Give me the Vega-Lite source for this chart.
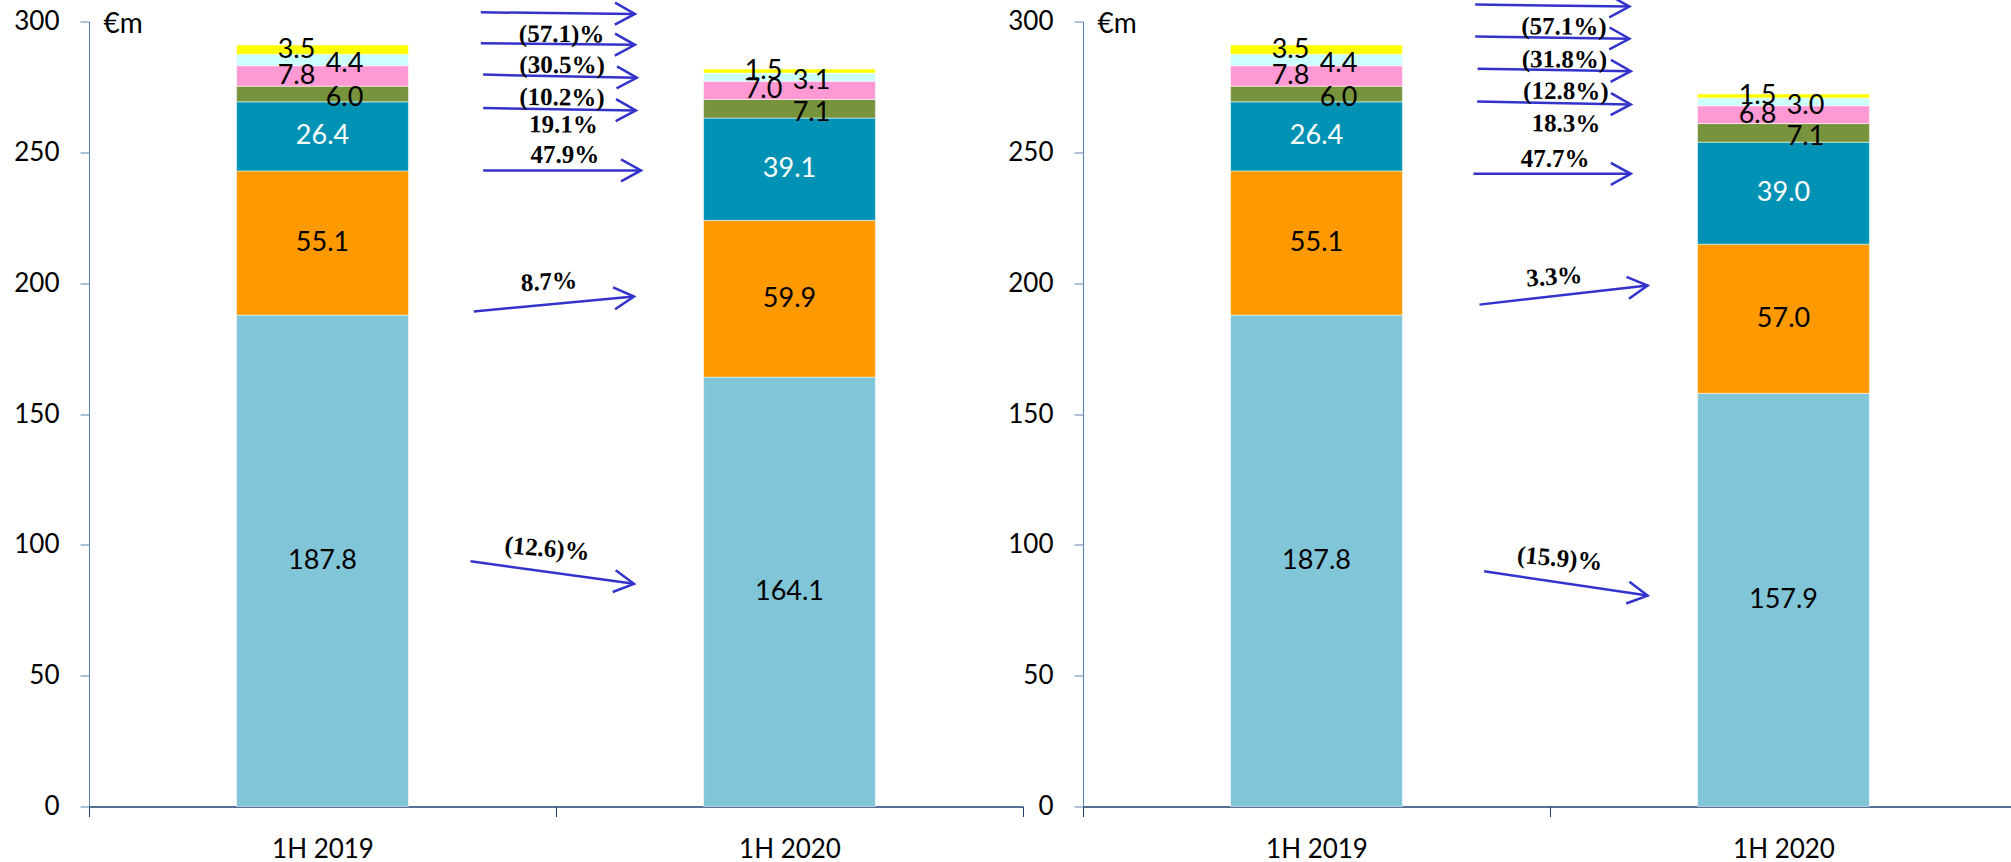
{
  "$schema": "https://vega.github.io/schema/vega-lite/v6.json",
  "background": "white",
  "padding": {"left": 13, "top": -10.5, "right": 0, "bottom": 0},
  "bounds": "flush",
  "spacing": 60,
  "config": {"view": {"stroke": null}, "font": "Lato"},
  "datasets": {
    "bars": [
      {"panel": "A", "period": "1H 2019", "seg": "lightblue", "order": 1, "value": 187.8},
      {"panel": "A", "period": "1H 2019", "seg": "orange", "order": 2, "value": 55.1},
      {"panel": "A", "period": "1H 2019", "seg": "teal", "order": 3, "value": 26.4},
      {"panel": "A", "period": "1H 2019", "seg": "green", "order": 4, "value": 6.0},
      {"panel": "A", "period": "1H 2019", "seg": "pink", "order": 5, "value": 7.8},
      {"panel": "A", "period": "1H 2019", "seg": "cyan", "order": 6, "value": 4.4},
      {"panel": "A", "period": "1H 2019", "seg": "yellow", "order": 7, "value": 3.5},
      {"panel": "A", "period": "1H 2020", "seg": "lightblue", "order": 1, "value": 164.1},
      {"panel": "A", "period": "1H 2020", "seg": "orange", "order": 2, "value": 59.9},
      {"panel": "A", "period": "1H 2020", "seg": "teal", "order": 3, "value": 39.1},
      {"panel": "A", "period": "1H 2020", "seg": "green", "order": 4, "value": 7.1},
      {"panel": "A", "period": "1H 2020", "seg": "pink", "order": 5, "value": 7.0},
      {"panel": "A", "period": "1H 2020", "seg": "cyan", "order": 6, "value": 3.1},
      {"panel": "A", "period": "1H 2020", "seg": "yellow", "order": 7, "value": 1.5},
      {"panel": "B", "period": "1H 2019", "seg": "lightblue", "order": 1, "value": 187.8},
      {"panel": "B", "period": "1H 2019", "seg": "orange", "order": 2, "value": 55.1},
      {"panel": "B", "period": "1H 2019", "seg": "teal", "order": 3, "value": 26.4},
      {"panel": "B", "period": "1H 2019", "seg": "green", "order": 4, "value": 6.0},
      {"panel": "B", "period": "1H 2019", "seg": "pink", "order": 5, "value": 7.8},
      {"panel": "B", "period": "1H 2019", "seg": "cyan", "order": 6, "value": 4.4},
      {"panel": "B", "period": "1H 2019", "seg": "yellow", "order": 7, "value": 3.5},
      {"panel": "B", "period": "1H 2020", "seg": "lightblue", "order": 1, "value": 157.9},
      {"panel": "B", "period": "1H 2020", "seg": "orange", "order": 2, "value": 57.0},
      {"panel": "B", "period": "1H 2020", "seg": "teal", "order": 3, "value": 39.0},
      {"panel": "B", "period": "1H 2020", "seg": "green", "order": 4, "value": 7.1},
      {"panel": "B", "period": "1H 2020", "seg": "pink", "order": 5, "value": 6.8},
      {"panel": "B", "period": "1H 2020", "seg": "cyan", "order": 6, "value": 3.0},
      {"panel": "B", "period": "1H 2020", "seg": "yellow", "order": 7, "value": 1.5}
    ],
    "arrows": [
      {"panel": "A", "seg": "yellow", "x1": 0.839, "y1": 303.5, "x2": 1.169, "y2": 302.9, "lab": "(57.1)%", "lx": 1.012, "ly": 295.2},
      {"panel": "A", "seg": "cyan", "x1": 0.839, "y1": 291.7, "x2": 1.169, "y2": 291.1, "lab": "(30.5%)", "lx": 1.013, "ly": 283.4},
      {"panel": "A", "seg": "pink", "x1": 0.844, "y1": 279.7, "x2": 1.173, "y2": 278.5, "lab": "(10.2%)", "lx": 1.013, "ly": 271.0},
      {"panel": "A", "seg": "green", "x1": 0.844, "y1": 266.9, "x2": 1.171, "y2": 266.0, "lab": "19.1%", "lx": 1.016, "ly": 260.6},
      {"panel": "A", "seg": "teal", "x1": 0.844, "y1": 243.1, "x2": 1.182, "y2": 243.1, "lab": "47.9%", "lx": 1.019, "ly": 248.8},
      {"panel": "A", "seg": "orange", "x1": 0.824, "y1": 189.2, "x2": 1.167, "y2": 194.9, "lab": "8.7%", "lx": 0.985, "ly": 200.6},
      {"panel": "A", "seg": "lightblue", "x1": 0.817, "y1": 93.7, "x2": 1.167, "y2": 85.1, "lab": "(12.6)%", "lx": 0.981, "ly": 98.6},
      {"panel": "B", "seg": "yellow", "x1": 0.840, "y1": 306.5, "x2": 1.170, "y2": 305.7, "lab": "(57.1%)", "lx": 1.030, "ly": 298.1},
      {"panel": "B", "seg": "cyan", "x1": 0.840, "y1": 294.3, "x2": 1.170, "y2": 293.4, "lab": "(31.8%)", "lx": 1.031, "ly": 285.5},
      {"panel": "B", "seg": "pink", "x1": 0.845, "y1": 281.9, "x2": 1.173, "y2": 281.0, "lab": "(12.8%)", "lx": 1.034, "ly": 273.4},
      {"panel": "B", "seg": "green", "x1": 0.844, "y1": 269.4, "x2": 1.173, "y2": 268.3, "lab": "18.3%", "lx": 1.034, "ly": 261.0},
      {"panel": "B", "seg": "teal", "x1": 0.836, "y1": 241.8, "x2": 1.173, "y2": 241.8, "lab": "47.7%", "lx": 1.011, "ly": 247.6},
      {"panel": "B", "seg": "orange", "x1": 0.849, "y1": 191.8, "x2": 1.209, "y2": 199.1, "lab": "3.3%", "lx": 1.009, "ly": 202.5},
      {"panel": "B", "seg": "lightblue", "x1": 0.859, "y1": 89.9, "x2": 1.209, "y2": 80.6, "lab": "(15.9)%", "lx": 1.021, "ly": 94.8}
    ]
  },
  "hconcat": [
    {
      "width": 934, "height": 785,
      "layer": [
        {
          "data": {"name": "bars"},
          "transform": [{"filter": "datum.panel === 'A'"}],
          "layer": [
            {
              "mark": {"type": "bar", "width": {"band": 0.368}, "stroke": "#ffffff", "strokeWidth": 1, "strokeOpacity": 0.5},
              "encoding": {
                "x": {"field": "period", "type": "nominal", "sort": null, "scale": {"paddingInner": 0, "paddingOuter": 0},
                  "axis": {"title": null, "labelAngle": 0, "labelFont": "Lato", "labelFontSize": 26, "labelColor": "#000000", "tickBand": "extent", "tickSize": 10, "labelPadding": 20, "domainColor": "#1F3F6E", "tickColor": "#1F3F6E", "domainWidth": 1.5, "tickWidth": 1}},
                "y": {"field": "value", "type": "quantitative", "stack": "zero", "scale": {"domain": [0, 300], "nice": false},
                  "axis": {"title": "€m", "titleAngle": 0, "titleAlign": "left", "titleBaseline": "top", "titleX": 14, "titleY": -11, "titleFont": "Lato", "titleFontSize": 28, "titleFontWeight": "normal", "titleColor": "#000000", "labelFont": "Lato", "labelFontSize": 26, "labelColor": "#000000", "tickSize": 9, "labelPadding": 21, "grid": false, "values": [0, 50, 100, 150, 200, 250, 300], "domainColor": "#5A82B0", "tickColor": "#5A82B0"}},
                "color": {"field": "seg", "type": "nominal", "legend": null,
                  "scale": {"domain": ["lightblue", "orange", "teal", "green", "pink", "cyan", "yellow"], "range": ["#80C6D8", "#FF9900", "#0092B4", "#77933C", "#FF99D4", "#CCFFFF", "#FFFF00"]}},
                "order": {"field": "order", "type": "quantitative"}
              }
            },
            {
              "mark": {"type": "text", "font": "Lato", "fontSize": 27, "align": "center", "baseline": "middle"},
              "encoding": {
                "x": {"field": "period", "type": "nominal", "sort": null},
                "y": {"field": "value", "type": "quantitative", "stack": "zero", "bandPosition": 0.5},
                "detail": {"field": "seg"},
                "order": {"field": "order", "type": "quantitative"},
                "text": {"condition": {"test": "datum.order <= 3", "field": "value", "type": "quantitative", "format": ".1f"}, "value": ""},
                "color": {"condition": {"test": "datum.seg === 'teal'", "value": "#ffffff"}, "value": "#000000"}
              }
            },
            {
              "mark": {"type": "text", "font": "Lato", "fontSize": 27, "align": "center", "baseline": "middle", "dx": -26, "color": "#000000"},
              "encoding": {
                "x": {"field": "period", "type": "nominal", "sort": null},
                "y": {"field": "value", "type": "quantitative", "stack": "zero", "bandPosition": 0.5},
                "detail": {"field": "seg"},
                "order": {"field": "order", "type": "quantitative"},
                "text": {"condition": {"test": "datum.seg === 'yellow' || datum.seg === 'pink'", "field": "value", "type": "quantitative", "format": ".1f"}, "value": ""}
              }
            },
            {
              "mark": {"type": "text", "font": "Lato", "fontSize": 27, "align": "center", "baseline": "middle", "dx": 22, "dy": 4, "color": "#000000"},
              "encoding": {
                "x": {"field": "period", "type": "nominal", "sort": null},
                "y": {"field": "value", "type": "quantitative", "stack": "zero", "bandPosition": 0.5},
                "detail": {"field": "seg"},
                "order": {"field": "order", "type": "quantitative"},
                "text": {"condition": {"test": "datum.seg === 'cyan' || datum.seg === 'green'", "field": "value", "type": "quantitative", "format": ".1f"}, "value": ""}
              }
            }
          ]
        },
        {
          "data": {"name": "arrows"},
          "transform": [
            {"filter": "datum.panel === 'A'"},
            {"calculate": "atan2(-(datum.y2 - datum.y1) * 785 / 300, (datum.x2 - datum.x1) * 467) * 180 / PI", "as": "ang"},
            {"calculate": "datum.ang * 0.6", "as": "tilt"}
          ],
          "layer": [
            {
              "mark": {"type": "rule", "color": "#3333CC", "strokeWidth": 2.5},
              "encoding": {
                "x": {"field": "x1", "type": "quantitative", "scale": {"domain": [0, 2], "nice": false, "zero": false}, "axis": null},
                "y": {"field": "y1", "type": "quantitative", "scale": {"domain": [0, 300], "nice": false}},
                "x2": {"field": "x2"},
                "y2": {"field": "y2"}
              }
            },
            {
              "mark": {"type": "point", "shape": "M -1 -0.55 L 0 0 L -1 0.55", "size": 1600, "filled": false, "stroke": "#3333CC", "strokeWidth": 2.5, "opacity": 1},
              "encoding": {
                "x": {"field": "x2", "type": "quantitative", "scale": {"domain": [0, 2], "nice": false, "zero": false}, "axis": null},
                "y": {"field": "y2", "type": "quantitative", "scale": {"domain": [0, 300], "nice": false}},
                "angle": {"field": "ang", "type": "quantitative", "scale": null}
              }
            },
            {
              "mark": {"type": "text", "font": "Liberation Serif", "fontWeight": "bold", "fontSize": 25, "align": "center", "baseline": "middle", "color": "#000000"},
              "encoding": {
                "x": {"field": "lx", "type": "quantitative", "scale": {"domain": [0, 2], "nice": false, "zero": false}, "axis": null},
                "y": {"field": "ly", "type": "quantitative", "scale": {"domain": [0, 300], "nice": false}},
                "text": {"field": "lab"},
                "angle": {"field": "tilt", "type": "quantitative", "scale": null}
              }
            }
          ]
        }
      ],
      "resolve": {"scale": {"x": "independent"}}
    },
    {
      "width": 934, "height": 785,
      "layer": [
        {
          "data": {"name": "bars"},
          "transform": [{"filter": "datum.panel === 'B'"}],
          "layer": [
            {
              "mark": {"type": "bar", "width": {"band": 0.368}, "stroke": "#ffffff", "strokeWidth": 1, "strokeOpacity": 0.5},
              "encoding": {
                "x": {"field": "period", "type": "nominal", "sort": null, "scale": {"paddingInner": 0, "paddingOuter": 0},
                  "axis": {"title": null, "labelAngle": 0, "labelFont": "Lato", "labelFontSize": 26, "labelColor": "#000000", "tickBand": "extent", "tickSize": 10, "labelPadding": 20, "domainColor": "#1F3F6E", "tickColor": "#1F3F6E", "domainWidth": 1.5, "tickWidth": 1}},
                "y": {"field": "value", "type": "quantitative", "stack": "zero", "scale": {"domain": [0, 300], "nice": false},
                  "axis": {"title": "€m", "titleAngle": 0, "titleAlign": "left", "titleBaseline": "top", "titleX": 14, "titleY": -11, "titleFont": "Lato", "titleFontSize": 28, "titleFontWeight": "normal", "titleColor": "#000000", "labelFont": "Lato", "labelFontSize": 26, "labelColor": "#000000", "tickSize": 9, "labelPadding": 21, "grid": false, "values": [0, 50, 100, 150, 200, 250, 300], "domainColor": "#5A82B0", "tickColor": "#5A82B0"}},
                "color": {"field": "seg", "type": "nominal", "legend": null,
                  "scale": {"domain": ["lightblue", "orange", "teal", "green", "pink", "cyan", "yellow"], "range": ["#80C6D8", "#FF9900", "#0092B4", "#77933C", "#FF99D4", "#CCFFFF", "#FFFF00"]}},
                "order": {"field": "order", "type": "quantitative"}
              }
            },
            {
              "mark": {"type": "text", "font": "Lato", "fontSize": 27, "align": "center", "baseline": "middle"},
              "encoding": {
                "x": {"field": "period", "type": "nominal", "sort": null},
                "y": {"field": "value", "type": "quantitative", "stack": "zero", "bandPosition": 0.5},
                "detail": {"field": "seg"},
                "order": {"field": "order", "type": "quantitative"},
                "text": {"condition": {"test": "datum.order <= 3", "field": "value", "type": "quantitative", "format": ".1f"}, "value": ""},
                "color": {"condition": {"test": "datum.seg === 'teal'", "value": "#ffffff"}, "value": "#000000"}
              }
            },
            {
              "mark": {"type": "text", "font": "Lato", "fontSize": 27, "align": "center", "baseline": "middle", "dx": -26, "color": "#000000"},
              "encoding": {
                "x": {"field": "period", "type": "nominal", "sort": null},
                "y": {"field": "value", "type": "quantitative", "stack": "zero", "bandPosition": 0.5},
                "detail": {"field": "seg"},
                "order": {"field": "order", "type": "quantitative"},
                "text": {"condition": {"test": "datum.seg === 'yellow' || datum.seg === 'pink'", "field": "value", "type": "quantitative", "format": ".1f"}, "value": ""}
              }
            },
            {
              "mark": {"type": "text", "font": "Lato", "fontSize": 27, "align": "center", "baseline": "middle", "dx": 22, "dy": 4, "color": "#000000"},
              "encoding": {
                "x": {"field": "period", "type": "nominal", "sort": null},
                "y": {"field": "value", "type": "quantitative", "stack": "zero", "bandPosition": 0.5},
                "detail": {"field": "seg"},
                "order": {"field": "order", "type": "quantitative"},
                "text": {"condition": {"test": "datum.seg === 'cyan' || datum.seg === 'green'", "field": "value", "type": "quantitative", "format": ".1f"}, "value": ""}
              }
            }
          ]
        },
        {
          "data": {"name": "arrows"},
          "transform": [
            {"filter": "datum.panel === 'B'"},
            {"calculate": "atan2(-(datum.y2 - datum.y1) * 785 / 300, (datum.x2 - datum.x1) * 467) * 180 / PI", "as": "ang"},
            {"calculate": "datum.ang * 0.6", "as": "tilt"}
          ],
          "layer": [
            {
              "mark": {"type": "rule", "color": "#3333CC", "strokeWidth": 2.5},
              "encoding": {
                "x": {"field": "x1", "type": "quantitative", "scale": {"domain": [0, 2], "nice": false, "zero": false}, "axis": null},
                "y": {"field": "y1", "type": "quantitative", "scale": {"domain": [0, 300], "nice": false}},
                "x2": {"field": "x2"},
                "y2": {"field": "y2"}
              }
            },
            {
              "mark": {"type": "point", "shape": "M -1 -0.55 L 0 0 L -1 0.55", "size": 1600, "filled": false, "stroke": "#3333CC", "strokeWidth": 2.5, "opacity": 1},
              "encoding": {
                "x": {"field": "x2", "type": "quantitative", "scale": {"domain": [0, 2], "nice": false, "zero": false}, "axis": null},
                "y": {"field": "y2", "type": "quantitative", "scale": {"domain": [0, 300], "nice": false}},
                "angle": {"field": "ang", "type": "quantitative", "scale": null}
              }
            },
            {
              "mark": {"type": "text", "font": "Liberation Serif", "fontWeight": "bold", "fontSize": 25, "align": "center", "baseline": "middle", "color": "#000000"},
              "encoding": {
                "x": {"field": "lx", "type": "quantitative", "scale": {"domain": [0, 2], "nice": false, "zero": false}, "axis": null},
                "y": {"field": "ly", "type": "quantitative", "scale": {"domain": [0, 300], "nice": false}},
                "text": {"field": "lab"},
                "angle": {"field": "tilt", "type": "quantitative", "scale": null}
              }
            }
          ]
        }
      ],
      "resolve": {"scale": {"x": "independent"}}
    }
  ]
}
